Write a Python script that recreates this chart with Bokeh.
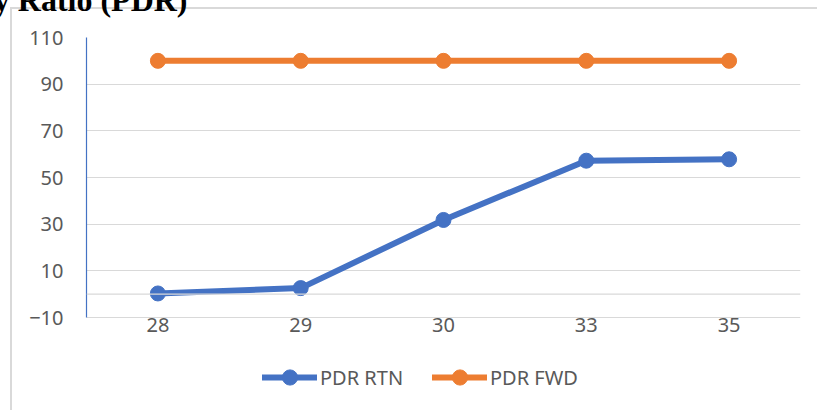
from bokeh.plotting import figure
from bokeh.models import (Legend, LegendItem, Span, FixedTicker, Range1d, Title)
from bokeh.embed import file_html
from bokeh.resources import INLINE

categories = ["28", "29", "30", "33", "35"]
pdr_rtn = [0.3, 2.6, 31.8, 57.2, 57.8]
pdr_fwd = [100, 100, 100, 100, 100]
y_ticks = [-10, 10, 30, 50, 70, 90, 110]
series_names = ["PDR RTN", "PDR FWD"]
title_text = "Packet Delivery Ratio (PDR)"

BLUE = "#4472c4"
ORANGE = "#ed7d31"
GRID = "#d9d9d9"
TXT = "#595959"
FONT = "Noto Sans"

SHIFT = 66  # canvas is lifted so that the title is cut at the top, as in the reference
# the frame reaches down to the legend row; the value axis itself spans -10..110
p = figure(x_range=categories, y_range=Range1d(-46, 110),
           frame_width=714, frame_height=364,
           output_backend="svg", toolbar_location=None,
           min_border_left=86, min_border_right=17,
           min_border_top=37 + SHIFT, min_border_bottom=9)
line_img = "linear-gradient(#d9d9d9, #d9d9d9)"
p.styles = {
    "margin-top": f"-{SHIFT}px",
    "background-color": "white",
    "background-image": f"{line_img}, {line_img}",
    "background-size": f"2px calc(100% - {7 + SHIFT}px), calc(100% - 10px) 2px",
    "background-position": f"10px {7 + SHIFT}px, 10px {7 + SHIFT}px",
    "background-repeat": "no-repeat",
}
p.border_fill_alpha = 0
p.background_fill_color = "white"
p.outline_line_color = None

p.yaxis.ticker = FixedTicker(ticks=y_ticks)
p.yaxis.bounds = (y_ticks[0], y_ticks[-1])
p.ygrid.ticker = FixedTicker(ticks=y_ticks)
p.ygrid.grid_line_color = GRID
p.ygrid.grid_line_width = 1.2
p.xgrid.grid_line_color = None

p.yaxis.axis_line_color = BLUE
p.yaxis.axis_line_width = 1.2
p.yaxis.major_tick_line_color = None
p.yaxis.minor_tick_line_color = None
p.yaxis.major_label_standoff = 17
p.yaxis.major_label_text_font = FONT
p.yaxis.major_label_text_font_size = "20px"
p.yaxis.major_label_text_color = TXT

p.xaxis.axis_line_color = None
p.xaxis.major_tick_line_color = None
p.xaxis.minor_tick_line_color = None
p.xaxis.major_label_standoff = -90
p.xaxis.major_label_text_font = FONT
p.xaxis.major_label_text_font_size = "20px"
p.xaxis.major_label_text_color = TXT

p.add_layout(Span(location=0, dimension="width", line_color=GRID, line_width=1.2))

r1 = p.line(categories, pdr_rtn, line_color=BLUE, line_width=6, line_cap="round")
c1 = p.scatter(categories, pdr_rtn, size=15, fill_color=BLUE, line_color=BLUE)
r2 = p.line(categories, pdr_fwd, line_color=ORANGE, line_width=6, line_cap="round")
c2 = p.scatter(categories, pdr_fwd, size=15, fill_color=ORANGE, line_color=ORANGE)

legend = Legend(items=[LegendItem(label=series_names[0], renderers=[r1, c1]),
                       LegendItem(label=series_names[1], renderers=[r2, c2])],
                orientation="horizontal", location=(176, 5),
                glyph_width=55, glyph_height=38, label_height=20, label_width=112,
                label_standoff=3, spacing=0, padding=0, margin=0,
                border_line_color=None, background_fill_alpha=0,
                label_text_font=FONT, label_text_font_size="20px",
                label_text_color=TXT)
p.add_layout(legend)

p.add_layout(Title(text=title_text, align="right", offset=613, standoff=40,
                   text_font="Liberation Serif", text_font_style="bold",
                   text_font_size="32px", text_color="black"), "above")

open("out.html", "w").write(file_html(p, INLINE))
